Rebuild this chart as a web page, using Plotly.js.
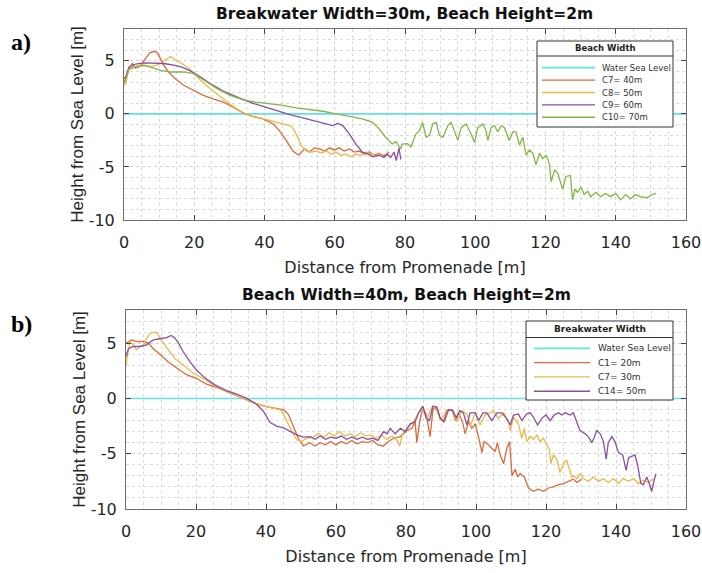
<!DOCTYPE html>
<html><head><meta charset="utf-8">
<script src="https://cdn.plot.ly/plotly-3.0.1.min.js"></script>
<style>html,body{margin:0;padding:0;background:#fff;}#chart{width:702px;height:573px;}</style>
</head><body><div id="chart"></div>
<script>
// ---------- (a) Breakwater Width=30m, Beach Height=2m ----------
const seaX = [0, 160];
const seaY = [0, 0];

const a_c7_x = [0, 0.5, 1.4, 2.4, 3.3, 4.7, 6.1, 7.4, 8.5, 9.4, 10.4, 11.3, 12.7, 14.6, 17, 19.8, 22.6, 25.5, 28.3, 31.1, 34, 36.8, 39.6, 42.5, 44.3, 46.2, 48.1, 49.5, 50, 51.4, 52.8, 54.2, 55.7, 57.1, 58.5, 59.9, 61.3, 62.7, 64.2, 65.6, 67, 68.4, 69.8, 71.2, 72.6, 74, 75.5];
const a_c7_y = [2.9, 3.2, 4.3, 4.75, 4.3, 4.5, 5.2, 5.75, 5.9, 5.8, 5.2, 4.6, 3.95, 3.3, 2.7, 2.2, 1.75, 1.4, 1.1, 0.63, 0.06, -0.25, -0.47, -0.95, -1.6, -2.5, -3.5, -3.86, -3.8, -3.3, -3.6, -3.2, -3.3, -3.5, -3.2, -3.4, -3.2, -3.5, -3.3, -3.6, -3.5, -3.8, -3.6, -3.9, -3.7, -3.95, -3.6];

const a_c8_x = [0, 0.5, 1.4, 2.8, 5.7, 8.5, 10.4, 12.3, 13.2, 14.6, 16.5, 18.4, 19.8, 21.7, 24.5, 27.4, 30.2, 33, 35.8, 38.7, 41.5, 44.3, 47.2, 48, 49, 50.5, 51.9, 53.3, 54.7, 56.1, 57.5, 59, 60.4, 61.8, 63.2, 64.6, 66, 67.5, 68.9, 70.3, 71.7, 73.1];
const a_c8_y = [2.7, 2.85, 4.3, 4.4, 4.5, 4.5, 4.75, 5.2, 5.4, 5.1, 4.75, 4.3, 3.8, 3.2, 2.4, 1.6, 0.9, 0.3, -0.16, -0.38, -0.63, -0.9, -1.1, -1.27, -1.9, -3.0, -3.5, -3.6, -3.5, -3.7, -3.5, -3.8, -3.6, -3.9, -3.8, -4.05, -3.8, -3.9, -3.6, -3.8, -3.95, -3.7];

const a_c9_x = [0, 0.5, 1.4, 3.3, 5.7, 8.5, 11.3, 14.2, 16.5, 18.9, 21.7, 24.5, 28.3, 32.1, 35.8, 39.6, 43.4, 47.2, 50.9, 54.7, 57.5, 59.4, 60.8, 62.3, 64.2, 66, 67.9, 69.5, 70.8, 72.6, 74, 75, 75.9, 76.9, 77.5, 78.3, 78.8];
const a_c9_y = [3.3, 3.5, 4.4, 4.7, 4.8, 4.75, 4.75, 4.6, 4.4, 4.05, 3.5, 2.85, 2.15, 1.6, 1.1, 0.7, 0.3, -0.06, -0.38, -0.7, -1.0, -1.1, -0.9, -1.1, -1.9, -2.85, -3.6, -3.8, -4.05, -3.9, -4.1, -3.8, -4.1, -3.6, -4.4, -3.2, -4.3];

const a_c10_x = [0, 0.5, 1.4, 3.8, 5.7, 7.5, 10.4, 13.2, 17, 19.8, 22.6, 26.4, 30.2, 34, 37.7, 41.5, 45.3, 49, 52.8, 56.6, 60.4, 64.2, 67.9, 70.8, 72.6, 74.5, 76.4, 77.4, 78.3, 78.8, 79.2, 80.7, 81.7, 83.1, 84.1, 85.0, 86.0, 87.0, 87.9, 88.9, 89.8, 90.8, 92.2, 93.1, 94.1, 95.0, 96.0, 97.4, 98.8, 99.8, 100.7, 102.2, 103.1, 103.6, 104.5, 105.5, 106.4, 107.4, 108.3, 109.7, 110.7, 111.6, 112.6, 113.5, 114.5, 115.4, 116.4, 117.3, 118.3, 119.2, 120.2, 121.1, 121.6, 122.6, 123.5, 124.9, 125.8, 127.1, 127.7, 128.4, 129.1, 130.1, 131.0, 132.0, 132.9, 134.3, 135.7, 137.1, 138.5, 140.0, 141.4, 142.8, 144.2, 145.6, 147.0, 148.9, 150.3, 151.5];
const a_c10_y = [3.0, 3.3, 4.2, 4.5, 4.6, 4.4, 4.1, 3.95, 3.95, 3.8, 3.2, 2.4, 1.75, 1.33, 1.1, 0.95, 0.8, 0.57, 0.4, 0.25, 0.0, -0.25, -0.47, -0.8, -1.4, -2.2, -2.85, -2.6, -3.0, -3.3, -2.85, -2.8, -3.1, -1.9, -1.6, -0.8, -2.2, -2.0, -0.96, -0.8, -2.0, -2.2, -1.1, -0.8, -1.6, -2.5, -1.3, -0.96, -1.9, -2.7, -1.3, -0.96, -1.6, -2.5, -1.3, -1.1, -1.7, -1.1, -1.3, -2.5, -1.7, -1.7, -2.96, -2.2, -3.9, -3.4, -3.7, -4.8, -3.7, -4.2, -3.9, -4.7, -6.4, -5.3, -5.6, -7.1, -5.9, -5.8, -8.1, -7.1, -7.4, -6.9, -7.6, -7.3, -7.8, -7.4, -7.8, -7.5, -7.8, -7.5, -8.1, -7.6, -8.0, -7.6, -7.8, -7.9, -7.6, -7.5];

// ---------- (b) Beach Width=40m, Beach Height=2m ----------
const b_c1_x = [0, 0.7, 1.6, 3, 5, 6.4, 7.8, 9.7, 12.1, 14.5, 17.3, 20.2, 23, 25.9, 28.8, 31.6, 34.5, 37.3, 40.2, 43, 45.1, 46.4, 47.8, 49.2, 50.7, 52.5, 54, 55.5, 57, 58.5, 60, 61.5, 63, 64.5, 66, 67.5, 69, 70.5, 72, 73.5, 75, 76.5, 78.4, 80.3, 81.7, 82.6, 83.1, 83.9, 84.8, 85.8, 86.9, 87.7, 88.8, 89.8, 90.7, 91.7, 93.1, 94.1, 95.0, 96.3, 96.9, 97.9, 98.8, 99.8, 100.7, 101.7, 102.3, 103.6, 104.5, 105.5, 106.1, 106.9, 107.9, 108.8, 109.6, 110.3, 111.2, 111.9, 112.6, 113.8, 115.0, 116.4, 117.8, 119.3, 120.7, 122.1, 123.6, 125.0, 126.4, 127.8, 128.8, 130.2];
const b_c1_y = [5.0, 5.15, 5.3, 5.15, 5.15, 5.0, 4.5, 4.0, 3.3, 2.75, 2.15, 1.8, 1.3, 1.0, 0.6, 0.25, -0.12, -0.5, -0.74, -0.92, -1.04, -1.44, -2.5, -3.6, -4.3, -4.0, -4.3, -4.0, -4.2, -3.9, -4.2, -3.9, -4.1, -3.8, -4.1, -3.9, -4.0, -3.8, -4.2, -4.3, -3.9, -3.6, -3.45, -2.9, -2.7, -2.1, -4.0, -2.1, -0.8, -1.5, -3.45, -1.0, -0.8, -1.8, -2.1, -1.1, -1.0, -2.0, -1.3, -2.3, -3.2, -2.1, -2.7, -2.3, -3.45, -4.9, -3.9, -4.2, -4.5, -4.8, -4.0, -5.1, -5.9, -4.5, -3.9, -7.0, -6.4, -7.1, -6.8, -7.1, -8.1, -8.4, -8.2, -8.4, -8.1, -8.0, -7.8, -7.7, -7.5, -7.3, -7.6, -7.3];

const b_c7_x = [0, 0.7, 1.1, 2.1, 3, 4, 5, 5.9, 6.9, 8.3, 9.2, 10.7, 12.1, 14, 16.4, 19.2, 22.1, 25, 27.8, 30.7, 33.5, 36.4, 39.2, 42.1, 44.2, 45, 46.4, 47.6, 48.8, 50.2, 51.6, 53.5, 55, 56.5, 58, 59.5, 61, 62.5, 64, 65.5, 67, 68.5, 70, 71.5, 73, 74.5, 76, 77.5, 78.2, 79, 80.3, 82.2, 84.5, 86.0, 87.4, 88.8, 89.9, 91.7, 93.1, 94.5, 95.9, 97.4, 98.5, 99.8, 101.2, 102.6, 104.1, 105.0, 106.4, 107.9, 109.3, 109.8, 110.7, 112.1, 113.1, 113.8, 114.5, 115.5, 116.4, 117.4, 118.3, 119.3, 120.2, 121.0, 121.4, 122.1, 123.1, 124.0, 125.0, 125.9, 126.7, 127.4, 128.0, 128.8, 129.7, 130.7, 132.1, 133.5, 135.0, 136.4, 137.8, 139.3, 140.7, 142.1, 143.5, 145.0, 146.4, 147.8, 149.2, 150.7];
const b_c7_y = [3.0, 4.5, 5.15, 4.85, 4.4, 4.7, 4.85, 5.45, 5.9, 6.0, 5.75, 5.0, 4.4, 3.6, 3.0, 2.3, 1.8, 1.2, 0.8, 0.4, 0.0, -0.37, -0.67, -0.92, -1.04, -1.44, -2.36, -3.1, -3.74, -3.9, -3.6, -3.5, -3.2, -3.5, -3.1, -3.4, -3.0, -3.4, -3.2, -3.5, -3.1, -3.4, -3.3, -3.6, -3.3, -3.7, -3.4, -3.8, -4.3, -3.2, -2.7, -2.1, -0.8, -1.8, -0.8, -1.1, -2.0, -1.0, -1.1, -2.1, -1.1, -1.4, -2.4, -1.3, -2.4, -1.5, -1.3, -1.1, -1.8, -1.3, -2.1, -2.9, -1.7, -2.3, -3.6, -2.7, -3.9, -3.45, -3.7, -3.3, -3.9, -3.6, -4.2, -4.6, -5.9, -5.1, -5.5, -6.7, -5.9, -5.6, -6.4, -7.1, -7.0, -7.25, -6.8, -7.25, -7.5, -7.1, -7.5, -7.25, -7.6, -7.25, -7.7, -7.25, -7.5, -7.25, -7.7, -7.4, -7.6, -7.3];

const b_c14_x = [0, 0.7, 2.1, 4, 5.9, 7.8, 9.7, 11.6, 12.9, 14, 15, 16.4, 18.3, 20.2, 22.6, 25.4, 28.8, 31.6, 34.5, 37.3, 39.2, 41.1, 43, 45, 46.9, 48.8, 50.7, 52.6, 54, 55.5, 57, 58.5, 60, 61.5, 63, 64.5, 66, 67.5, 69, 70.5, 72, 73.6, 74.6, 75.5, 76.9, 78.4, 79.8, 81.2, 82.6, 83.6, 84.8, 85.8, 86.7, 87.7, 88.8, 89.8, 90.9, 92.2, 93.4, 94.4, 95.3, 96.4, 97.4, 98.3, 99.8, 100.7, 102.0, 103.1, 104.5, 106.0, 107.4, 108.7, 109.8, 110.7, 112.1, 113.1, 114.5, 115.5, 116.4, 117.6, 118.8, 120.0, 121.2, 122.3, 123.6, 124.5, 125.5, 126.9, 127.8, 128.8, 129.7, 131.2, 132.1, 133.1, 133.7, 134.5, 135.5, 136.4, 137.2, 137.8, 138.8, 139.7, 140.7, 141.9, 142.9, 143.6, 144.5, 145.4, 146.1, 147.1, 147.8, 148.8, 149.5, 150.2, 150.9, 151.4];
const b_c14_y = [3.8, 4.5, 4.7, 4.7, 4.85, 5.3, 5.4, 5.5, 5.7, 5.45, 5.0, 4.2, 3.3, 2.55, 1.84, 1.23, 0.7, 0.4, 0.0, -0.52, -1.13, -2.15, -2.5, -2.67, -2.98, -3.3, -3.5, -3.45, -3.7, -3.4, -3.7, -3.5, -3.6, -3.4, -3.7, -3.5, -3.7, -3.5, -3.7, -3.6, -3.8, -3.0, -3.2, -2.7, -3.2, -2.7, -3.0, -2.3, -2.1, -1.3, -0.7, -1.8, -2.0, -0.7, -0.8, -1.8, -2.1, -1.0, -1.1, -1.8, -1.1, -1.3, -2.4, -1.3, -1.3, -2.0, -1.3, -1.3, -2.0, -1.3, -1.3, -1.8, -2.4, -1.5, -1.4, -2.0, -1.4, -1.3, -1.7, -2.4, -1.8, -1.5, -2.0, -1.5, -1.3, -1.5, -1.3, -1.5, -1.3, -2.1, -2.9, -3.2, -3.45, -4.0, -3.6, -2.9, -3.2, -3.9, -5.5, -4.0, -3.45, -3.9, -4.9, -5.1, -6.5, -5.35, -5.2, -5.1, -5.9, -7.7, -7.8, -7.1, -7.7, -8.4, -7.4, -6.8];

// ---------- ticks and text ----------
const yTickVals = [-10, -5, 0, 5];
const yTickText = ['-10', '-5', '0', '5'];
const titleA = 'Breakwater Width=30m, Beach Height=2m';
const titleB = 'Beach Width=40m, Beach Height=2m';
const xTitle = 'Distance from Promenade [m]';
const yTitle = 'Height from Sea Level [m]';
const legendTitleA = 'Beach Width';
const legendNamesA = ['Water Sea Level', 'C7= 40m', 'C8= 50m', 'C9= 60m', 'C10= 70m'];
const legendTitleB = 'Breakwater Width';
const legendNamesB = ['Water Sea Level', 'C1= 20m', 'C7= 30m', 'C14= 50m'];

const COL = {sea:'#62DFE9', red:'#DC6A3A', yel:'#EDB84A', pur:'#8A4F9E', grn:'#84B547'};
const colorsA = [COL.sea, COL.red, COL.yel, COL.pur, COL.grn];
const colorsB = [COL.sea, COL.red, COL.yel, COL.pur];

const W = 702, H = 573;
const px = x => x / W;
const py = y => 1 - y / H;

function tr(x, y, color, name, xa, ya, w) {
  return {type:'scatter', mode:'lines', x:x, y:y, name:name, xaxis:xa, yaxis:ya,
          line:{color:color, width:w || 1.3}, showlegend:false, hoverinfo:'skip'};
}

const data = [
  tr(seaX, seaY, COL.sea, legendNamesA[0], 'x', 'y', 1.6),
  tr(a_c7_x, a_c7_y, COL.red, legendNamesA[1], 'x', 'y'),
  tr(a_c8_x, a_c8_y, COL.yel, legendNamesA[2], 'x', 'y'),
  tr(a_c9_x, a_c9_y, COL.pur, legendNamesA[3], 'x', 'y'),
  tr(a_c10_x, a_c10_y, COL.grn, legendNamesA[4], 'x', 'y'),
  tr(seaX, seaY, COL.sea, legendNamesB[0], 'x2', 'y2', 1.6),
  tr(b_c1_x, b_c1_y, COL.red, legendNamesB[1], 'x2', 'y2'),
  tr(b_c7_x, b_c7_y, COL.yel, legendNamesB[2], 'x2', 'y2'),
  tr(b_c14_x, b_c14_y, COL.pur, legendNamesB[3], 'x2', 'y2')
];

const FONT = 'DejaVu Sans, Verdana, sans-serif';
const TXT = '#262626';

function xax(dom, anchor) {
  return {domain:dom, anchor:anchor, range:[0,160], tick0:0, dtick:20, ticks:'inside', ticklen:5,
    tickcolor:'#444', tickwidth:1, mirror:'ticks', showline:true, linecolor:'#6e6e6e', linewidth:1,
    showgrid:true, gridcolor:'#d2d2d2', griddash:'dot', gridwidth:1, zeroline:false,
    minor:{dtick:5, showgrid:true, gridcolor:'#dadada', griddash:'dot', gridwidth:1, ticks:''},
    tickfont:{family:FONT, size:16, color:TXT}, ticklabelstandoff:8,
    title:{text:xTitle, font:{family:FONT, size:16, color:TXT}, standoff:10}};
}
function yax(dom, anchor) {
  return {domain:dom, anchor:anchor, range:[-10,8], tickmode:'array', tickvals:yTickVals, ticktext:yTickText,
    ticks:'inside', ticklen:5,
    tickcolor:'#444', tickwidth:1, mirror:'ticks', showline:true, linecolor:'#6e6e6e', linewidth:1,
    showgrid:true, gridcolor:'#d2d2d2', griddash:'dot', gridwidth:1, zeroline:false,
    minor:{tick0:0, dtick:1, showgrid:true, gridcolor:'#dadada', griddash:'dot', gridwidth:1, ticks:''},
    tickfont:{family:FONT, size:16, color:TXT}, ticklabelstandoff:5,
    title:{text:yTitle, font:{family:'Liberation Sans, Arial, sans-serif', size:17, color:TXT}, standoff:0}};
}

const shapes = [];
const annotations = [];

function legendBox(x0, x1, y0, ysep, y1, title, names, colors, y_first, step, lx0, lx1, tx, fs) {
  shapes.push({type:'rect', xref:'paper', yref:'paper', x0:px(x0), x1:px(x1), y0:py(y0), y1:py(y1),
    fillcolor:'#ffffff', line:{color:'#333', width:1}, layer:'above'});
  shapes.push({type:'line', xref:'paper', yref:'paper', x0:px(x0), x1:px(x1), y0:py(ysep), y1:py(ysep),
    line:{color:'#333', width:1}, layer:'above'});
  annotations.push({xref:'paper', yref:'paper', x:px((x0+x1)/2), y:py((y0+ysep)/2), text:title,
    showarrow:false, xanchor:'center', yanchor:'middle',
    font:{family:FONT, size:fs, color:'#222', weight:'bold'}});
  names.forEach((n, i) => {
    const yy = y_first + i * step;
    shapes.push({type:'line', xref:'paper', yref:'paper', x0:px(lx0), x1:px(lx1), y0:py(yy), y1:py(yy),
      line:{color:colors[i], width:i === 0 ? 1.8 : 1.4}, layer:'above'});
    annotations.push({xref:'paper', yref:'paper', x:px(tx), y:py(yy), text:n, showarrow:false,
      xanchor:'left', yanchor:'middle', font:{family:FONT, size:fs, color:'#333'}});
  });
}
legendBox(537, 673, 41, 56, 127, legendTitleA, legendNamesA, colorsA, 67.7, 12.4, 542, 595, 600, 8.5);
legendBox(526, 673, 321, 337.5, 400, legendTitleB, legendNamesB, colorsB, 348.3, 14.3, 534, 590, 596, 9);

annotations.push({xref:'paper', yref:'paper', x:px(405), y:py(14), text:titleA, showarrow:false,
  xanchor:'center', yanchor:'middle', font:{family:FONT, size:15.5, color:'#111', weight:'bold'}});
annotations.push({xref:'paper', yref:'paper', x:px(406), y:py(295), text:titleB, showarrow:false,
  xanchor:'center', yanchor:'middle', font:{family:FONT, size:15.5, color:'#111', weight:'bold'}});
annotations.push({xref:'paper', yref:'paper', x:px(21), y:py(42), text:'a)', showarrow:false,
  xanchor:'center', yanchor:'middle', font:{family:'Liberation Serif, Times New Roman, serif', size:24, color:'#000', weight:'bold'}});
annotations.push({xref:'paper', yref:'paper', x:px(21), y:py(324), text:'b)', showarrow:false,
  xanchor:'center', yanchor:'middle', font:{family:'Liberation Serif, Times New Roman, serif', size:24, color:'#000', weight:'bold'}});

const layout = {
  width:W, height:H, margin:{l:0, r:0, t:0, b:0}, paper_bgcolor:'#ffffff', plot_bgcolor:'#ffffff',
  showlegend:false,
  xaxis: xax([px(124), px(686)], 'y'),
  yaxis: yax([py(220), py(29)], 'x'),
  xaxis2: xax([px(126), px(686)], 'y2'),
  yaxis2: yax([py(509), py(310)], 'x2'),
  shapes: shapes,
  annotations: annotations
};

Plotly.newPlot('chart', data, layout, {staticPlot:true, displayModeBar:false});
</script>
</body></html>
